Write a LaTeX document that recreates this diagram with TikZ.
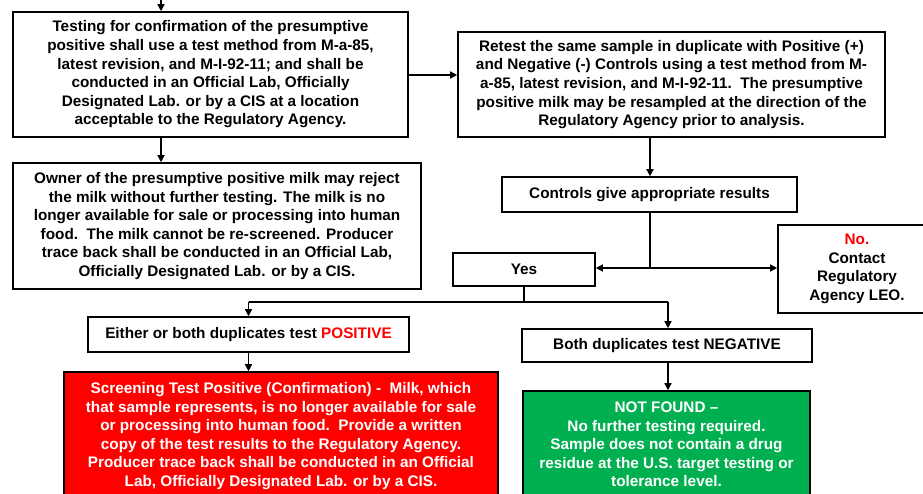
\documentclass[tikz,border=0pt]{standalone}
\usepackage{fontspec}
\setmainfont{Liberation Sans}
\usetikzlibrary{arrows.meta}
\definecolor{posred}{HTML}{FF0000}
\definecolor{neggreen}{HTML}{00B050}
\begin{document}
\begin{tikzpicture}[x=1pt,y=-1pt,
  every node/.style={font=\fontsize{15.3}{18.6}\selectfont\bfseries},
  box/.style={draw=black, line width=1.6pt, fill=white, inner sep=0pt, align=center},
  redbox/.style={box, fill=posred, text=white},
  greenbox/.style={box, fill=neggreen, text=white},
  link/.style={line width=1.4pt},
  arr/.style={link, -{Triangle[length=7pt,width=7pt]}}]
\useasboundingbox (0,0) rectangle (923,493);
\clip (0,0) rectangle (923,493);

% boxes
\node[box, minimum width=395pt, minimum height=125pt] (b1) at (210.5,74.5)
  {Testing for confirmation of the presumptive\\
   positive shall use a test method from M-a-85,\\
   latest revision, and M-I-92-11; and shall be\\
   conducted in an Official Lab, Officially\\
   Designated Lab. or by a CIS at a location\\
   acceptable to the Regulatory Agency.};
\node[box, minimum width=427pt, minimum height=105pt] (b2) at (671.5,84.5)
  {Retest the same sample in duplicate with Positive (+)\\
   and Negative (-) Controls using a test method from M-\\
   a-85, latest revision, and M-I-92-11.\ \ The presumptive\\
   positive milk may be resampled at the direction of the\\
   Regulatory Agency prior to analysis.};
\node[box, minimum width=408pt, minimum height=126pt] (b3) at (217,226)
  {Owner of the presumptive positive milk may reject\\
   the milk without further testing. The milk is no\\
   longer available for sale or processing into human\\
   food.\ \ The milk cannot be re-screened. Producer\\
   trace back shall be conducted in an Official Lab,\\
   Officially Designated Lab. or by a CIS.};
\node[box, minimum width=295pt, minimum height=35pt] (ctrl) at (649.5,194.5)
  {Controls give appropriate results};
\node[box, minimum width=142pt, minimum height=33pt] (yes) at (524,269.5) {Yes};
\node[box, minimum width=158pt, minimum height=88pt] (no) at (857,269)
  {\textcolor{posred}{No.}\\Contact\\Regulatory\\Agency LEO.};
\node[box, minimum width=321pt, minimum height=35pt] (either) at (248.5,334.5)
  {Either or both duplicates test \textcolor{posred}{POSITIVE}};
\node[box, minimum width=290pt, minimum height=33pt] (both) at (667,345.5)
  {Both duplicates test NEGATIVE};
\node[redbox, minimum width=434pt, minimum height=128pt] (pos) at (281,436)
  {Screening Test Positive (Confirmation) -\ \ Milk, which\\
   that sample represents, is no longer available for sale\\
   or processing into human food.\ \ Provide a written\\
   copy of the test results to the Regulatory Agency.\\
   Producer trace back shall be conducted in an Official\\
   Lab, Officially Designated Lab. or by a CIS.};
\node[greenbox, minimum width=287pt, minimum height=107pt] (neg) at (666.5,444.5)
  {NOT FOUND --\\
   No further testing required.\\
   Sample does not contain a drug\\
   residue at the U.S. target testing or\\
   tolerance level.};

% connectors
\coordinate (entry) at (161,-2);
\coordinate (split) at (650,268);
\coordinate (forkL) at (248.5,302);
\coordinate (forkR) at (668,302);

\draw[arr] (entry) -- (entry |- b1.north);
\draw[arr] (b1.east |- 0,75) -- (b2.west |- 0,75);
\draw[arr] (entry |- b1.south) -- (entry |- b3.north);
\draw[arr] (split |- b2.south) -- (split |- ctrl.north);
\draw[link] (split |- ctrl.south) -- (split);
\draw[arr] (split) -- (yes.east |- split);
\draw[arr] (split) -- (no.west |- split);
\draw[link] (yes.south) -- (yes.south |- forkL);
\draw[link] (forkL) -- (forkR);
\draw[arr] (forkL) -- (forkL |- either.north);
\draw[arr] (forkR) -- (forkR |- both.north);
\draw[arr] (forkL |- either.south) -- (forkL |- pos.north);
\draw[arr] (forkR |- both.south) -- (forkR |- neg.north);
\end{tikzpicture}
\end{document}
